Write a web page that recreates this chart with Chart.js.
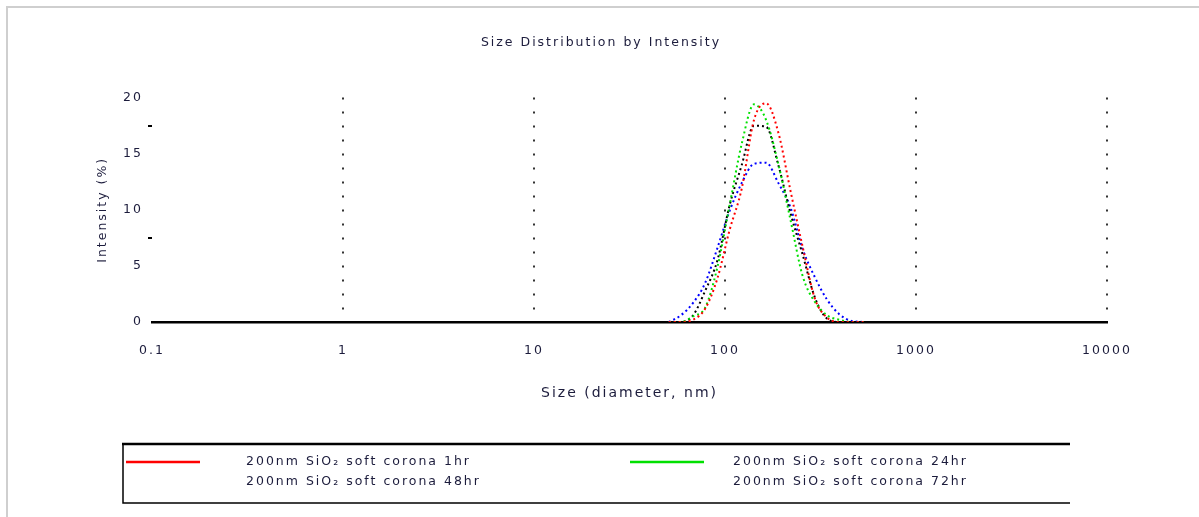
<!DOCTYPE html>
<html>
<head>
<meta charset="utf-8">
<script src="https://cdn.jsdelivr.net/npm/chart.js@4.4.1/dist/chart.umd.min.js"></script>
<style>
  body { margin: 0; background: #fff; overflow: hidden; }
  #chart { display: block; }
</style>
</head>
<body>
<canvas id="chart" width="1199" height="517"></canvas>
<script>
// size classes (d.nm) and intensity (%) for each sample
var sizes = [50.75, 58.77, 68.06, 78.82, 91.28, 105.7, 122.4, 141.8, 164.2, 190.1, 220.2, 255.0, 295.3, 342.0, 396.1, 458.7, 531.2];
var corona1hr  = [0, 0, 0.2, 1.2, 3.9, 8.2, 11.9, 18.0, 19.5, 16.9, 11.7, 6.7, 2.1, 0.4, 0, 0, 0];
var corona24hr = [0, 0, 0.5, 1.3, 4.9, 10.4, 15.9, 19.4, 18.0, 14.1, 9.1, 4.1, 1.8, 0.6, 0.2, 0, 0];
var corona48hr = [0, 0, 0.6, 2.8, 5.5, 10.4, 14.0, 17.5, 17.4, 14.0, 9.7, 6.0, 2.2, 0.3, 0, 0, 0];
var corona72hr = [0, 0.6, 1.7, 3.5, 6.6, 9.9, 12.4, 14.1, 14.2, 12.4, 10.2, 6.5, 4.0, 2.0, 0.7, 0.1, 0];
var etichette = ["200nm SiO\u2082 soft corona 1hr", "200nm SiO\u2082 soft corona 24hr",
                 "200nm SiO\u2082 soft corona 48hr", "200nm SiO\u2082 soft corona 72hr"];
var colori = ["#ff0000", "#00e000", "#000000", "#0000ff"];
var xTicks = [0.1, 1, 10, 100, 1000, 10000];
var yTicks = [0, 5, 10, 15, 20];

var font = "'DejaVu Sans', sans-serif";
var testo = "#1c1c3c";

function punti(valori)
{
  return sizes.map(function(s, i) { return {x: s, y: valori[i]}; });
}

var serie = [corona1hr, corona24hr, corona48hr, corona72hr];

// grey frame on top and left, text spread a bit like the original
var cornice = {
  id: 'cornice',
  beforeDraw: function(chart)
  {
    var ctx = chart.ctx;
    ctx.save();
    ctx.strokeStyle = "#cfcfcf";
    ctx.lineWidth = 2;
    ctx.beginPath(); ctx.moveTo(7, 517); ctx.lineTo(7, 7); ctx.lineTo(1199, 7); ctx.stroke();
    ctx.restore();
    ctx.letterSpacing = '2px';
  }
};

// legend drawn in the space under the x axis title
var legendaBox = {
  id: 'legendaBox',
  afterDraw: function(chart)
  {
    var ctx = chart.ctx;
    ctx.save();
    ctx.strokeStyle = "#000";
    ctx.lineWidth = 2.5;
    ctx.beginPath(); ctx.moveTo(122, 444); ctx.lineTo(1070, 444); ctx.stroke();
    ctx.lineWidth = 1.5;
    ctx.beginPath(); ctx.moveTo(123, 444); ctx.lineTo(123, 503); ctx.lineTo(1070, 503); ctx.stroke();
    var colX = [246, 733];
    var simX = [126, 630];
    var rowY = [462, 482];
    ctx.font = "12.5px " + font;
    ctx.textBaseline = "middle";
    ctx.fillStyle = testo;
    chart.data.datasets.forEach(function(ds, i) {
      var c = i % 2, r = Math.floor(i / 2);
      if (r === 0) {
        ctx.strokeStyle = ds.borderColor;
        ctx.lineWidth = 2.5;
        ctx.beginPath(); ctx.moveTo(simX[c], rowY[r]); ctx.lineTo(simX[c] + 74, rowY[r]); ctx.stroke();
      }
      ctx.fillText(ds.label, colX[c], rowY[r]);
    });
    ctx.restore();
  }
};

new Chart(document.getElementById("chart"),
{
  type: 'line',
  data:
  {
    datasets: serie.map(function(v, i) {
      return {
        label: etichette[i],
        data: punti(v),
        borderColor: colori[i],
        borderWidth: 2,
        borderDash: [2, 3],
        pointRadius: 0,
        cubicInterpolationMode: 'monotone',
        fill: false
      };
    })
  },
  options:
  {
    responsive: false,
    animation: false,
    layout: { padding: { left: 95, right: 92, top: 0, bottom: 115 } },
    plugins:
    {
      legend: { display: false },
      tooltip: { enabled: false },
      title:
      {
        display: true,
        text: 'Size Distribution by Intensity',
        color: testo,
        font: { family: font, size: 12.5, weight: 'normal' },
        padding: { top: 35, bottom: 47.6 }
      }
    },
    scales:
    {
      x:
      {
        type: 'logarithmic',
        min: 0.1,
        max: 10000,
        afterBuildTicks: function(scale) { scale.ticks = xTicks.map(function(v) { return {value: v}; }); },
        afterFit: function(scale) { scale.height = 80; },
        ticks:
        {
          color: testo,
          padding: 21,
          maxRotation: 0,
          font: { family: font, size: 12.5 },
          callback: function(v) { return String(v); }
        },
        grid:
        {
          drawTicks: false,
          lineWidth: 2,
          color: function(c) { return c.tick && c.tick.value > 0.1 ? "#333" : "rgba(0,0,0,0)"; }
        },
        border: { display: true, color: "#000", width: 2.5, dash: [2, 12] },
        title:
        {
          display: true,
          text: 'Size (diameter, nm)',
          color: testo,
          font: { family: font, size: 14 },
          padding: 0
        }
      },
      y:
      {
        min: 0,
        max: 20,
        afterBuildTicks: function(scale) {
          var t = [];
          yTicks.forEach(function(v, i) {
            t.push({value: v});
            if (i < yTicks.length - 1) t.push({value: v + 2.5});
          });
          scale.ticks = t;
        },
        afterFit: function(scale) { scale.width = 57; },
        ticks:
        {
          color: testo,
          padding: 5,
          font: { family: font, size: 12.5 },
          callback: function(v) { return v % 5 === 0 ? String(v) : ''; }
        },
        grid:
        {
          drawOnChartArea: false,
          tickLength: 4,
          lineWidth: 2,
          color: function(c) { return c.tick && (c.tick.value === 7.5 || c.tick.value === 17.5) ? "#000" : "rgba(0,0,0,0)"; }
        },
        border: { display: false },
        title:
        {
          display: true,
          text: 'Intensity (%)',
          color: testo,
          font: { family: font, size: 12.5 },
          padding: 0
        }
      }
    }
  },
  plugins: [cornice, legendaBox]
});
</script>
</body>
</html>
